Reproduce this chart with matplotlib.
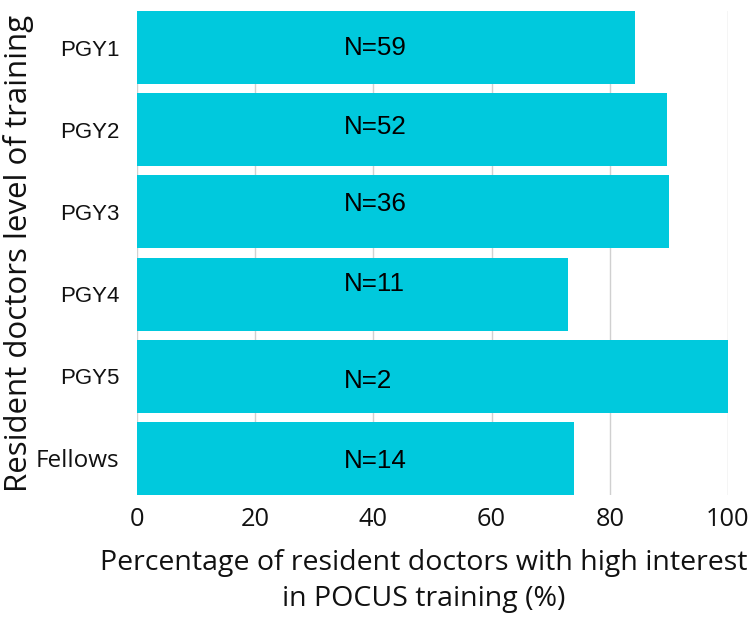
import matplotlib
matplotlib.use("Agg")
import matplotlib.pyplot as plt

categories = ["PGY1", "PGY2", "PGY3", "PGY4", "PGY5", "Fellows"]
values = [84.2, 89.6, 90.0, 73.0, 100.0, 73.9]
n_labels = ["N=59", "N=52", "N=36", "N=11", "N=2", "N=14"]
label_dy = [0.0, -0.03, -0.10, -0.12, 0.06, 0.03]
xticks = [0, 20, 40, 60, 80, 100]

bar_color = "#00C9DD"

fig = plt.figure(figsize=(7.5, 6.17), dpi=100)
ax = fig.add_axes([137/750, 1 - 495/617, (728-137)/750, (495-11)/617])

ypos = list(range(len(categories)))
bh = 0.89
ax.barh(ypos, values, height=bh, color=bar_color, zorder=2)

for y, lab, dy in zip(ypos, n_labels, label_dy):
    ax.text(35.0, y + dy, lab, ha="left", va="center", fontsize=18.7,
            family=["Liberation Sans", "DejaVu Sans"], color="black", zorder=3)

ax.set_xlim(0, 100)
ax.set_ylim(len(categories) - 1 + bh/2, -bh/2)
ax.set_xticks(xticks)
ax.set_xticklabels([str(t) for t in xticks], family=["Open Sans", "DejaVu Sans"], fontsize=18.3)
ax.set_yticks(ypos)
ax.set_yticklabels(categories)
for t in ax.get_yticklabels():
    if t.get_text() == "Fellows":
        t.set_family(["Open Sans", "DejaVu Sans"])
        t.set_fontsize(17.5)
    else:
        t.set_family(["Liberation Sans", "DejaVu Sans"])
        t.set_fontsize(16)
ax.tick_params(axis="both", length=0, colors="#111111")
ax.tick_params(axis="x", pad=9)
ax.tick_params(axis="y", pad=12.5)

for s in ax.spines.values():
    s.set_visible(False)
ax.grid(axis="x", color="#D0D0D0", linewidth=1, zorder=0)
ax.set_axisbelow(True)

ax.set_xlabel("Percentage of resident doctors with high interest\nin POCUS training (%)",
              family=["Open Sans", "DejaVu Sans"], fontsize=20.5, linespacing=1.4,
              color="#111111")
ax.xaxis.set_label_coords((424-137)/591, -(581-495)/484)
ax.xaxis.label.set_va("center")
ax.set_ylabel("Resident doctors level of training", family=["Open Sans", "DejaVu Sans"],
              fontsize=22.5, color="#111111")
ax.yaxis.set_label_coords(-103/591, 0.5)

fig.savefig("out.png", dpi=100)
